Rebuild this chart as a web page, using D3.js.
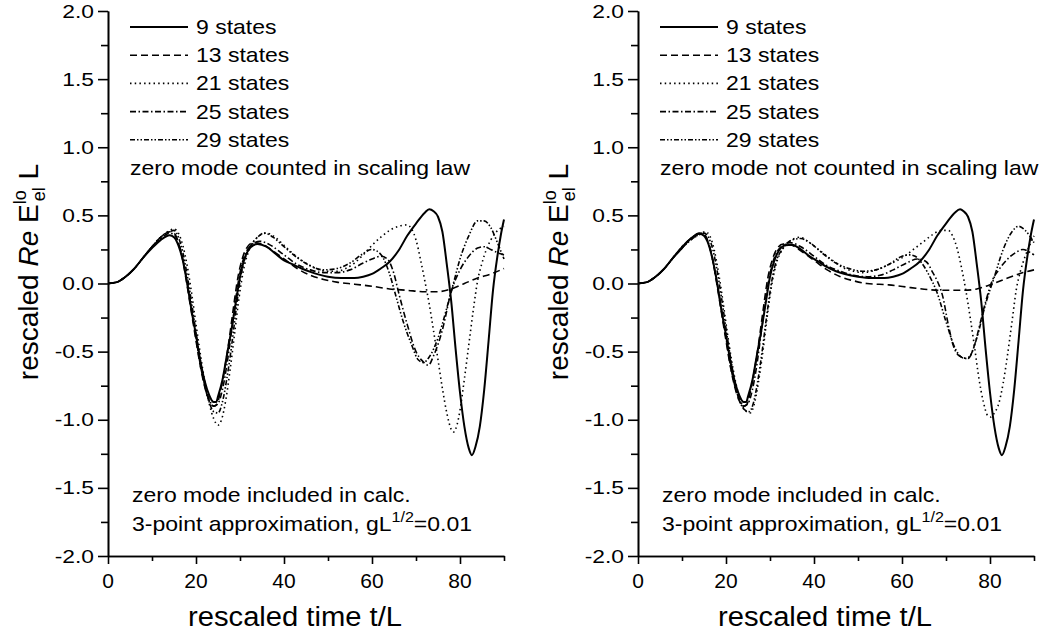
<!DOCTYPE html>
<html><head><meta charset="utf-8">
<script src="https://cdn.jsdelivr.net/npm/d3@7"></script>
<style>
body{margin:0;background:#fff}
svg{display:block}
text{font-family:"Liberation Sans",Arial,Helvetica,sans-serif;fill:#000}
</style>
</head><body>
<svg id="c" width="1050" height="637"></svg>
<script>
// ---------------- data ----------------
const seriesLabels = ["9 states", "13 states", "21 states", "25 states", "29 states"];
const xMajorTicks = [0, 20, 40, 60, 80];
const xMinorTicks = [10, 30, 50, 70, 90];
const yMajorTicks = [-2, -1.5, -1, -0.5, 0, 0.5, 1, 1.5, 2];
const yMinorTicks = [-1.75, -1.25, -0.75, -0.25, 0.25, 0.75, 1.25, 1.75];

// left panel: zero mode counted in scaling law
const left9 = [[0,0],[2,0.01],[4,0.05],[6,0.11],[8,0.19],[10,0.26],[12,0.32],[14,0.355],[15,0.34],[16,0.28],[17,0.17],[18,0.0],[19,-0.2],[20,-0.38],[21,-0.57],[22,-0.72],[23,-0.82],[24,-0.87],[24.6,-0.87],[25,-0.83],[26,-0.71],[27,-0.53],[28,-0.35],[29,-0.15],[30,0.05],[31,0.18],[32,0.25],[33,0.28],[34,0.29],[36,0.27],[38,0.22],[40,0.17],[42,0.14],[44,0.11],[46,0.085],[48,0.065],[50,0.05],[53,0.04],[56,0.04],[58,0.05],[60,0.07],[62,0.11],[64,0.16],[66,0.24],[68,0.35],[70,0.44],[72,0.52],[73,0.545],[74,0.53],[75,0.49],[76,0.38],[77,0.14],[78,-0.13],[79,-0.48],[80,-0.8],[81,-1.05],[82,-1.21],[82.7,-1.26],[83.5,-1.2],[84.5,-1.05],[85.5,-0.78],[86.5,-0.42],[87.5,-0.05],[88.5,0.2],[89.3,0.36],[90,0.47]];
const left13 = [[0,0],[2,0.01],[4,0.05],[6,0.11],[8,0.19],[10,0.27],[12,0.34],[14,0.38],[15,0.37],[16,0.3],[17,0.17],[18,-0.02],[19,-0.22],[20,-0.42],[21,-0.61],[22,-0.76],[23,-0.86],[24,-0.9],[24.7,-0.89],[25.5,-0.8],[26.5,-0.63],[27.5,-0.42],[28.5,-0.18],[29.5,0.04],[30.5,0.18],[31.5,0.26],[33,0.3],[35,0.29],[37,0.25],[40,0.18],[43,0.11],[46,0.06],[49,0.03],[52,0.01],[56,-0.005],[60,-0.02],[64,-0.04],[68,-0.05],[72,-0.06],[75,-0.06],[78,-0.04],[81,0.0],[84,0.04],[87,0.07],[90,0.11]];
const left21 = [[0,0],[2,0.01],[4,0.05],[6,0.11],[8,0.19],[10,0.27],[12,0.34],[14,0.39],[15,0.4],[16,0.37],[17,0.28],[18,0.13],[19,-0.07],[20,-0.3],[21,-0.52],[22,-0.72],[23,-0.88],[24,-0.99],[25,-1.04],[25.8,-1.0],[26.8,-0.85],[27.8,-0.62],[28.8,-0.36],[29.8,-0.1],[30.8,0.1],[32,0.24],[34,0.34],[36,0.37],[38,0.34],[40,0.28],[42,0.22],[44,0.17],[46,0.13],[48,0.1],[50,0.09],[52,0.09],[54,0.11],[56,0.15],[58,0.21],[60,0.28],[62,0.34],[64,0.39],[66,0.42],[68,0.43],[69,0.4],[70,0.32],[71,0.18],[72,0.02],[73,-0.15],[74,-0.35],[75,-0.56],[76,-0.77],[77,-0.95],[78,-1.07],[78.5,-1.09],[79.3,-1.04],[80,-0.93],[81,-0.7],[82,-0.45],[83,-0.2],[84,0.02],[85,0.15],[86,0.25],[87,0.32],[88,0.37],[89,0.4],[90,0.42]];
const left25 = [[0,0],[2,0.01],[4,0.05],[6,0.11],[8,0.19],[10,0.27],[12,0.33],[14,0.37],[15,0.36],[16,0.3],[17,0.18],[18,0.01],[19,-0.19],[20,-0.4],[21,-0.6],[22,-0.75],[23,-0.85],[24,-0.9],[25,-0.88],[26,-0.78],[27,-0.6],[28,-0.37],[29,-0.12],[30,0.08],[31,0.2],[32.5,0.28],[34.5,0.31],[37,0.28],[40,0.21],[43,0.14],[46,0.1],[49,0.08],[52,0.08],[55,0.1],[58,0.15],[60,0.18],[62,0.2],[63.5,0.18],[65,0.07],[66,-0.06],[68,-0.3],[70,-0.5],[71.5,-0.57],[72.8,-0.6],[74,-0.53],[76,-0.34],[78,-0.06],[80,0.1],[82,0.2],[84,0.26],[85.5,0.27],[87,0.25],[89,0.22],[90,0.21]];
const left29 = [[0,0],[2,0.01],[4,0.05],[6,0.11],[8,0.19],[10,0.27],[12,0.34],[14,0.38],[15,0.39],[16,0.34],[17,0.23],[18,0.06],[19,-0.14],[20,-0.36],[21,-0.57],[22,-0.75],[23,-0.87],[24,-0.94],[25,-0.95],[26,-0.87],[27,-0.7],[28,-0.48],[29,-0.22],[30,0.02],[31,0.17],[32.5,0.28],[34,0.34],[35.5,0.37],[37.5,0.34],[40,0.27],[43,0.19],[46,0.13],[49,0.1],[52,0.11],[55,0.15],[58,0.22],[59.8,0.25],[61,0.24],[62.5,0.19],[64,0.07],[65.5,-0.1],[67,-0.27],[69,-0.45],[70.5,-0.56],[71.7,-0.58],[73,-0.54],[75,-0.4],[77,-0.18],[78.5,0.0],[80,0.18],[82,0.35],[84,0.46],[85.5,0.46],[87,0.41],[88.5,0.3],[90,0.18]];

// right panel: zero mode not counted in scaling law
const right9 = [[0,0],[2,0.01],[4,0.05],[6,0.11],[8,0.19],[10,0.26],[12,0.33],[14,0.365],[15,0.35],[16,0.29],[17,0.17],[18,0.0],[19,-0.2],[20,-0.38],[21,-0.57],[22,-0.72],[23,-0.82],[24,-0.87],[24.6,-0.87],[25,-0.83],[26,-0.71],[27,-0.53],[28,-0.35],[29,-0.15],[30,0.05],[31,0.17],[32,0.24],[33.5,0.28],[35,0.285],[37,0.25],[39,0.2],[41,0.16],[43,0.12],[45,0.09],[47,0.07],[50,0.05],[53,0.04],[56,0.04],[58,0.05],[60,0.07],[62,0.11],[64,0.16],[66,0.24],[68,0.35],[70,0.44],[72,0.52],[73.2,0.545],[74,0.53],[75,0.49],[76,0.38],[77,0.14],[78,-0.13],[79,-0.48],[80,-0.8],[81,-1.05],[82,-1.21],[82.7,-1.26],[83.5,-1.2],[84.5,-1.05],[85.5,-0.78],[86.5,-0.42],[87.5,-0.05],[88.5,0.2],[89.3,0.36],[90,0.47]];
const right13 = [[0,0],[2,0.01],[4,0.05],[6,0.11],[8,0.19],[10,0.27],[12,0.33],[14,0.37],[15,0.36],[16,0.3],[17,0.17],[18,-0.02],[19,-0.22],[20,-0.42],[21,-0.61],[22,-0.76],[23,-0.86],[24,-0.9],[24.7,-0.89],[25.5,-0.8],[26.5,-0.63],[27.5,-0.42],[28.5,-0.18],[29.5,0.04],[30.5,0.17],[31.5,0.25],[33,0.29],[35,0.28],[37,0.24],[40,0.17],[43,0.1],[46,0.05],[49,0.02],[52,0.0],[57,-0.01],[62,-0.03],[66,-0.045],[70,-0.05],[74,-0.05],[77,-0.04],[80,-0.01],[84,0.04],[87.5,0.08],[90,0.1]];
const right21 = [[0,0],[2,0.01],[4,0.05],[6,0.11],[8,0.19],[10,0.26],[12,0.32],[14,0.36],[15.3,0.38],[16.3,0.35],[17.3,0.25],[18.3,0.08],[19.3,-0.13],[20.3,-0.36],[21.3,-0.57],[22.3,-0.74],[23.3,-0.86],[24.3,-0.93],[25.5,-0.95],[26.3,-0.9],[27.3,-0.74],[28.3,-0.52],[29.3,-0.26],[30.3,-0.03],[31.3,0.13],[33,0.26],[35,0.32],[36.8,0.34],[39,0.3],[41,0.25],[43,0.2],[45,0.15],[47,0.11],[49,0.09],[51,0.08],[53,0.09],[55,0.11],[57,0.14],[59,0.17],[61,0.21],[63,0.26],[65,0.31],[67,0.36],[69,0.39],[70.5,0.39],[71.5,0.35],[72.5,0.26],[73.5,0.12],[74.5,-0.05],[75.5,-0.25],[76.5,-0.47],[77.5,-0.7],[78.5,-0.87],[79.5,-0.97],[80.2,-0.98],[81,-0.95],[82,-0.88],[83,-0.73],[84,-0.52],[85,-0.28],[86,-0.04],[87,0.1],[88,0.2],[89,0.28],[90,0.35]];
const right25 = [[0,0],[2,0.01],[4,0.05],[6,0.11],[8,0.19],[10,0.27],[12,0.33],[14,0.37],[15,0.36],[16,0.3],[17,0.17],[18,0.0],[19,-0.2],[20,-0.4],[21,-0.6],[22,-0.75],[23,-0.85],[24,-0.9],[25,-0.88],[26,-0.78],[27,-0.6],[28,-0.36],[29,-0.12],[30,0.07],[31,0.19],[32.5,0.27],[34.5,0.3],[37,0.27],[40,0.2],[43,0.13],[46,0.09],[49,0.06],[52,0.05],[55,0.06],[58,0.1],[61,0.15],[63.5,0.18],[65.5,0.16],[67,0.08],[68,0.02],[69.3,-0.1],[70.5,-0.3],[71.6,-0.45],[73,-0.53],[75,-0.55],[76.5,-0.45],[78,-0.26],[79.3,-0.1],[80.5,0.02],[82,0.1],[84,0.18],[86,0.23],[87.5,0.25],[89,0.23],[90,0.21]];
const right29 = [[0,0],[2,0.01],[4,0.05],[6,0.11],[8,0.19],[10,0.26],[12,0.32],[14,0.36],[15,0.37],[16,0.34],[17,0.25],[18,0.09],[19,-0.11],[20,-0.33],[21,-0.54],[22,-0.72],[23,-0.85],[24,-0.92],[25.3,-0.94],[26.2,-0.88],[27.2,-0.72],[28.2,-0.5],[29.2,-0.25],[30.2,-0.02],[31.2,0.14],[33,0.26],[35,0.32],[37,0.33],[39,0.3],[42,0.22],[45,0.15],[48,0.11],[51,0.09],[54,0.1],[57,0.14],[60,0.2],[61.8,0.21],[63,0.2],[64.5,0.15],[66,0.07],[68,-0.07],[70,-0.28],[72,-0.47],[73.5,-0.54],[74.5,-0.55],[75.5,-0.53],[77,-0.4],[79,-0.15],[81,0.05],[83,0.25],[85,0.38],[86.5,0.42],[88,0.39],[89,0.35],[90,0.3]];

const leftSeries = [left9, left13, left21, left25, left29];
const rightSeries = [right9, right13, right21, right25, right29];

// ---------------- drawing ----------------
const svg = d3.select("#c");
const styles = [
  {dash: null, w: 2.0},
  {dash: "7,4", w: 1.6},
  {dash: "1.5,3.2", w: 1.6},
  {dash: "6,2.5,1.5,2.5", w: 1.6},
  {dash: "5,2,1.5,2,1.5,2", w: 1.6}
];

function stretchText(g, x, y, str, size, sx, anchor) {
  return g.append("text")
    .attr("transform", `translate(${x},${y}) scale(${sx},1)`)
    .attr("font-size", size)
    .attr("text-anchor", anchor || "start")
    .text(str);
}

function panel(ox, series, note) {
  const W = 396;
  const x = d3.scaleLinear().domain([0, 90]).range([ox, ox + W]);
  const y = d3.scaleLinear().domain([-2, 2]).range([556, 11]);
  const g = svg.append("g");

  // axes
  const ay = g.append("g").attr("transform", `translate(${ox},0)`);
  ay.call(d3.axisLeft(y).tickValues(yMinorTicks).tickSize(7).tickFormat("").tickSizeOuter(0));
  ay.append("g").call(d3.axisLeft(y).tickValues(yMajorTicks).tickSize(10).tickFormat("").tickSizeOuter(0));
  const ax = g.append("g").attr("transform", "translate(0,556)");
  ax.call(d3.axisBottom(x).tickValues(xMinorTicks).tickSize(5).tickFormat("").tickSizeOuter(0));
  ax.append("g").call(d3.axisBottom(x).tickValues(xMajorTicks).tickSize(8).tickFormat("").tickSizeOuter(0));
  g.selectAll("path.domain, .tick line").attr("stroke", "#000").attr("stroke-width", 1.6);

  // tick labels
  yMajorTicks.forEach(v => {
    stretchText(g, ox - 14, y(v) + 6.5, v.toFixed(1), 19, 1.2, "end");
  });
  xMajorTicks.forEach(v => {
    g.append("text").attr("x", x(v)).attr("y", 588).attr("font-size", 21)
      .attr("text-anchor", "middle").text(String(v));
  });

  // axis titles
  stretchText(g, ox + 187, 626, "rescaled time t/L", 27, 1.08, "middle");
  const yt = g.append("text")
    .attr("transform", `translate(${ox - 70},272) rotate(-90)`)
    .attr("font-size", 28).attr("text-anchor", "middle");
  yt.append("tspan").text("rescaled ");
  yt.append("tspan").attr("font-style", "italic").text("Re");
  yt.append("tspan").text(" E");
  yt.append("tspan").attr("font-size", 18).attr("dy", -12).text("lo");
  yt.append("tspan").attr("font-size", 18).attr("dx", -11).attr("dy", 19).text("el");
  yt.append("tspan").attr("dy", -7).text(" L");

  // curves
  const line = d3.line().x(d => x(d[0])).y(d => y(d[1])).curve(d3.curveMonotoneX);
  series.forEach((s, i) => {
    g.append("path").datum(s).attr("d", line)
      .attr("fill", "none").attr("stroke", "#000")
      .attr("stroke-width", styles[i].w)
      .attr("stroke-dasharray", styles[i].dash)
      .attr("stroke-linejoin", "round");
  });

  // legend
  seriesLabels.forEach((lab, i) => {
    const base = 34 + i * 28.2;
    g.append("line").attr("x1", ox + 22).attr("x2", ox + 80)
      .attr("y1", base - 7).attr("y2", base - 7)
      .attr("stroke", "#000").attr("stroke-width", styles[i].w)
      .attr("stroke-dasharray", styles[i].dash);
    stretchText(g, ox + 88, base, lab, 20, 1.15, "start");
  });
  stretchText(g, ox + 22, 175, note, 20, 1.15, "start");

  // bottom annotations
  stretchText(g, ox + 24, 502, "zero mode included in calc.", 20, 1.15, "start");
  const t2 = g.append("text")
    .attr("transform", `translate(${ox + 24},531) scale(1.15,1)`)
    .attr("font-size", 20);
  t2.append("tspan").text("3-point approximation, gL");
  t2.append("tspan").attr("font-size", 14).attr("dy", -9).text("1/2");
  t2.append("tspan").attr("dy", 9).text("=0.01");
}

panel(108, leftSeries, "zero mode counted in scaling law");
panel(638, rightSeries, "zero mode not counted in scaling law");
</script>
</body></html>
